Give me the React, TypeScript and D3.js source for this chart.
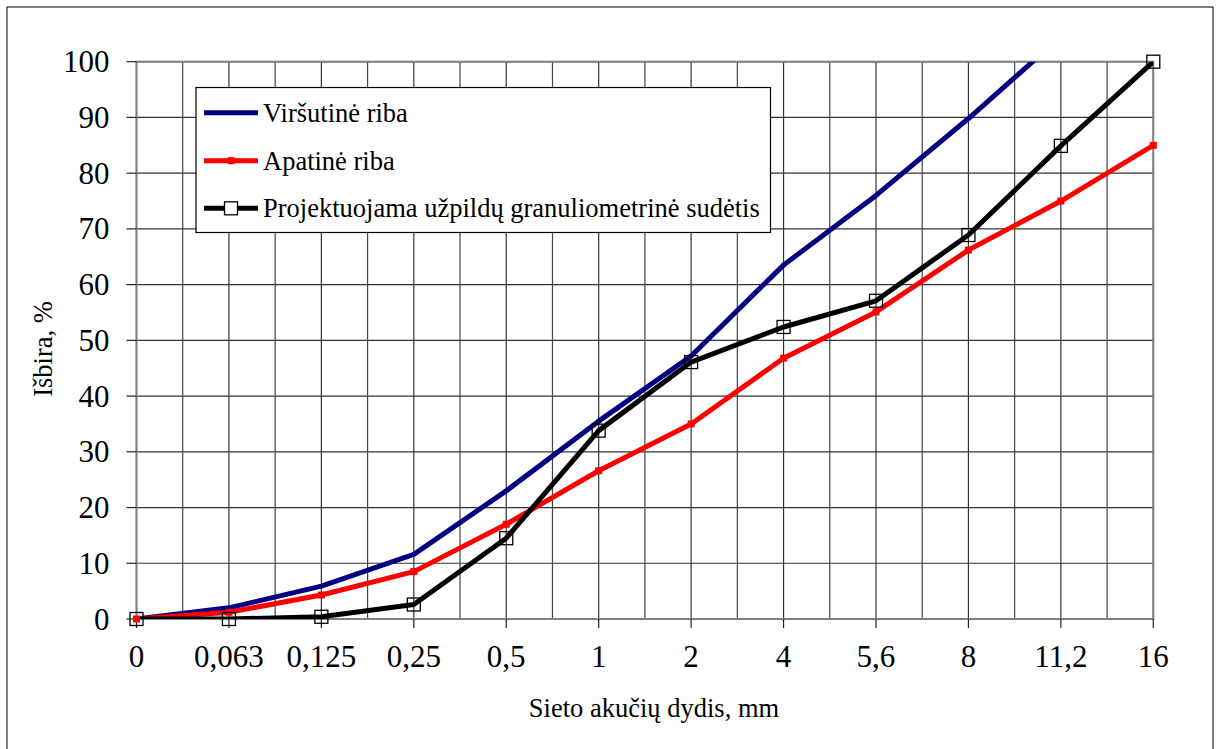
import React from "react";
import * as d3 from "d3";

const categories = ["0", "0,063", "0,125", "0,25", "0,5", "1", "2", "4", "5,6", "8", "11,2", "16"];
const upperLimit = [0, 2, 5.9, 11.6, 23, 35.5, 47.2, 63.5, 76, 89.8, 104.5, 120];
const lowerLimit = [0, 1.2, 4.3, 8.5, 17, 26.6, 35, 46.8, 55.1, 66.2, 75, 85];
const designed = [0, 0, 0.4, 2.6, 14.5, 33.8, 46.1, 52.4, 57.1, 68.9, 84.9, 100];
const yTicks = [0, 10, 20, 30, 40, 50, 60, 70, 80, 90, 100];

const seriesNames = [
  "Viršutinė riba",
  "Apatinė riba",
  "Projektuojama užpildų granuliometrinė sudėtis",
];

const FONT = "'Liberation Serif', 'Times New Roman', serif";

export default function App() {
  const W = 1218;
  const H = 749;
  const left = 136.5;
  const right = 1153.3;
  const top = 61.7;
  const bottom = 619;

  const x = d3.scalePoint<string>().domain(categories).range([left, right]).padding(0);
  const y = d3.scaleLinear().domain([0, 100]).range([bottom, top]);

  const step = x.step();
  const halfLines: number[] = [];
  for (let i = 0; i < categories.length - 1; i++) {
    halfLines.push((x(categories[i]) as number) + step / 2);
  }

  const line = d3
    .line<number>()
    .x((_, i) => x(categories[i]) as number)
    .y((d) => y(d));

  const series = [
    { name: seriesNames[0], data: upperLimit, color: "#000080", marker: "dot" },
    { name: seriesNames[1], data: lowerLimit, color: "#FF0000", marker: "sq" },
    { name: seriesNames[2], data: designed, color: "#000000", marker: "hollow" },
  ];

  const legendY = [112.7, 160.7, 208.3];

  return (
    <div style={{ position: "fixed", left: 0, top: 0 }}>
      <svg width={W} height={H} style={{ display: "block", background: "#fff" }}>
        <defs>
          <clipPath id="plotclip">
            <rect x={left} y={top} width={right - left} height={bottom - top} />
          </clipPath>
        </defs>
        <rect x={7} y={7} width={1206} height={760} fill="#fff" stroke="#000" strokeWidth={1} />

        {/* horizontal grid */}
        {yTicks.map((t) => (
          <line key={"h" + t} x1={left} x2={right} y1={y(t)} y2={y(t)} stroke="#333" strokeWidth={1.2} />
        ))}
        {/* vertical grid at categories */}
        {categories.map((c) => (
          <line key={"v" + c} x1={x(c)} x2={x(c)} y1={top} y2={bottom} stroke="#333" strokeWidth={1.2} />
        ))}
        {halfLines.map((hx, i) => (
          <line key={"vh" + i} x1={hx} x2={hx} y1={top} y2={bottom} stroke="#444" strokeWidth={1.2} />
        ))}
        {/* plot border */}
        <rect x={left} y={top} width={right - left} height={bottom - top} fill="none" stroke="#808080" strokeWidth={2} />

        {/* y ticks */}
        {yTicks.map((t) => (
          <g key={"yt" + t}>
            <line x1={left - 10} x2={left} y1={y(t)} y2={y(t)} stroke="#222" strokeWidth={1.2} />
            <text
              x={109.5}
              y={y(t) + 10.5}
              textAnchor="end"
              fontFamily={FONT}
              fontSize={31}
              fill="#000"
            >
              {t}
            </text>
          </g>
        ))}
        {/* x ticks */}
        {categories.map((c) => (
          <g key={"xt" + c}>
            <line x1={x(c)} x2={x(c)} y1={bottom} y2={bottom + 9} stroke="#222" strokeWidth={1.2} />
            <text x={x(c)} y={666.5} textAnchor="middle" fontFamily={FONT} fontSize={31} fill="#000">
              {c}
            </text>
          </g>
        ))}

        {/* series */}
        <g clipPath="url(#plotclip)">
          {series.map((s) => (
            <path key={s.name} d={line(s.data) || ""} fill="none" stroke={s.color} strokeWidth={5} strokeLinejoin="round" />
          ))}
        </g>
        {series.map((s) =>
          s.data.map((v, i) => {
            if (v > 100) return null;
            const cx = x(categories[i]) as number;
            const cy = y(v);
            if (s.marker === "sq")
              return <rect key={s.name + i} x={cx - 3.5} y={cy - 3.5} width={7} height={7} fill={s.color} />;
            if (s.marker === "hollow")
              return (
                <rect key={s.name + i} x={cx - 6.5} y={cy - 6.5} width={13} height={13} fill="none" stroke="#000" strokeWidth={1.3} />
              );
            return <rect key={s.name + i} x={cx - 2.5} y={cy - 1.5} width={5} height={3} fill={s.color} />;
          })
        )}

        {/* legend */}
        <rect x={196} y={87.5} width={574.5} height={145} fill="#fff" stroke="#000" strokeWidth={1.2} />
        {series.map((s, i) => {
          const ly = legendY[i];
          return (
            <g key={"lg" + i}>
              <line x1={204} x2={258} y1={ly} y2={ly} stroke={s.color} strokeWidth={5} />
              {s.marker === "sq" && <rect x={227.5} y={ly - 3.5} width={7} height={7} fill={s.color} />}
              {s.marker === "dot" && <rect x={228.5} y={ly - 1.5} width={5} height={3} fill={s.color} />}
              {s.marker === "hollow" && (
                <rect x={224.5} y={ly - 6.5} width={13} height={13} fill="#fff" stroke="#000" strokeWidth={1.3} />
              )}
              <text x={263} y={ly + 9} fontFamily={FONT} fontSize={26.5} fill="#000">
                {s.name}
              </text>
            </g>
          );
        })}

        {/* axis titles */}
        <text x={654} y={717} textAnchor="middle" fontFamily={FONT} fontSize={26.5} fill="#000">
          Sieto akučių dydis, mm
        </text>
        <text
          transform={`translate(52,349) rotate(-90)`}
          textAnchor="middle"
          fontFamily={FONT}
          fontSize={26.5}
          fill="#000"
        >
          Išbira, %
        </text>
      </svg>
    </div>
  );
}
